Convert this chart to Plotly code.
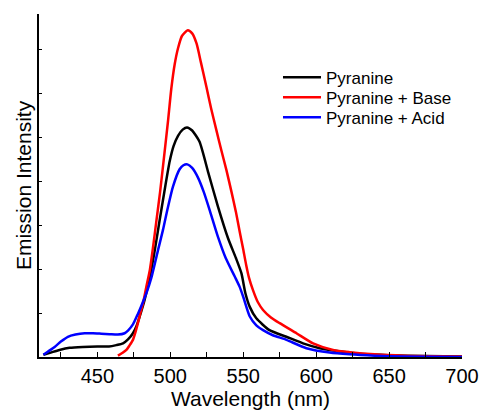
import plotly.graph_objects as go

# Wavelength (nm) and emission intensity (arb. units) for each series
wl_black = [413, 418, 424, 431, 440, 450, 458, 463, 467.6, 471, 474.4, 477, 479, 482.4,
            485.9, 489.4, 492.7, 496, 499.6, 502.3, 505.3, 508.5, 511.5, 515, 520, 526,
            532.7, 539.6, 545, 548.8, 551.5, 554.5, 559, 568, 579.6, 591, 602.5, 620.8,
            635, 650, 675, 700]
black = [0.05, 0.10, 0.16, 0.21, 0.23, 0.24, 0.24, 0.27, 0.31, 0.40, 0.54, 0.72, 0.92, 1.30,
         1.80, 2.43, 3.11, 3.77, 4.45, 4.80, 5.03, 5.17, 5.22, 5.15, 4.90, 4.20,
         3.42, 2.70, 2.25, 1.90, 1.45, 1.14, 0.88, 0.61, 0.46, 0.31, 0.20, 0.11,
         0.06, 0.04, 0.02, 0.01]

wl_red = [464.1, 467, 469.9, 472, 474.4, 476, 477.8, 479.5, 481.3, 483.6, 486, 488, 490.5,
          493, 496, 498.4, 500.7, 503, 505.3, 508, 512, 515, 518, 521, 524.8, 528, 531.6,
          535, 538.5, 542, 545, 547.6, 550, 552, 554, 556.7, 560, 563.6, 569, 575, 586.5,
          597.9, 611.6, 623, 640, 660, 700]
red = [0.03, 0.09, 0.16, 0.26, 0.39, 0.55, 0.77, 1.00, 1.22, 1.60, 1.98, 2.45, 3.10,
       3.75, 4.63, 5.35, 6.10, 6.65, 7.02, 7.30, 7.43, 7.36, 7.13, 6.70, 6.14, 5.65, 5.16,
       4.70, 4.25, 3.75, 3.30, 2.85, 2.45, 2.10, 1.80, 1.52, 1.25, 1.07, 0.90, 0.77, 0.54,
       0.31, 0.16, 0.11, 0.06, 0.03, 0.01]

wl_blue = [413, 416, 420.7, 425, 429.8, 435, 441.3, 447, 452.7, 458.4, 464, 468.7, 471,
           474.4, 477.8, 480, 483.6, 487, 491.6, 495, 498, 501.8, 506.4, 509, 511.7, 515,
           519, 523, 527, 532.7, 538, 544.2, 547.5, 550, 554.5, 559, 563.6, 570, 579.6,
           593.3, 609.3, 623, 640, 660, 700]
blue = [0.05, 0.12, 0.23, 0.35, 0.46, 0.51, 0.54, 0.54, 0.53, 0.52, 0.51, 0.54, 0.60,
        0.74, 0.98, 1.15, 1.45, 1.80, 2.43, 2.89, 3.35, 3.87, 4.27, 4.36, 4.38, 4.30,
        4.08, 3.75, 3.34, 2.73, 2.25, 1.83, 1.60, 1.37, 0.92, 0.72, 0.61, 0.50, 0.39,
        0.20, 0.10, 0.06, 0.03, 0.01, 0.00]

names = ["Pyranine", "Pyranine + Base", "Pyranine + Acid"]
x_ticks = [450, 500, 550, 600, 650, 700]

series = [(wl_black, black, names[0], "#000000", "legend"),
          (wl_red, red, names[1], "#ff0000", "legend2"),
          (wl_blue, blue, names[2], "#0000ff", "legend3")]

fig = go.Figure()
for xs, ys, name, col, lg in series:
    fig.add_trace(go.Scatter(x=xs, y=ys, name=name, mode="lines", legend=lg,
                             line=dict(color=col, width=2.5, shape="spline", smoothing=0.6)))

leg_common = dict(x=0.565, xanchor="left", yanchor="top", font=dict(size=17),
                  bgcolor="rgba(0,0,0,0)", itemwidth=38)

fig.update_layout(
    width=481, height=410,
    margin=dict(l=39, r=19, t=14, b=53),
    paper_bgcolor="white", plot_bgcolor="white",
    font=dict(family="Liberation Sans, Arial, sans-serif", color="black"),
    showlegend=True,
    legend=dict(y=0.8668, **leg_common),
    legend2=dict(y=0.8085, **leg_common),
    legend3=dict(y=0.750, **leg_common),
    xaxis=dict(range=[410, 700], tickvals=x_ticks, ticks="inside", ticklen=5,
               tickwidth=1.2, tickcolor="black", showline=True, linecolor="black",
               linewidth=1.5, showgrid=False, zeroline=False,
               tickfont=dict(size=20),
               minor=dict(dtick=25, tick0=425, ticks="inside", ticklen=5, tickwidth=1.2,
                          tickcolor="black", showgrid=False),
               title=dict(text="Wavelength (nm)", font=dict(size=21), standoff=4),
               automargin=False),
    yaxis=dict(range=[0, 7.8], dtick=1, tick0=0, ticks="inside", ticklen=3,
               tickwidth=1.2, tickcolor="black", showticklabels=False,
               showline=True, linecolor="black", linewidth=1.5, showgrid=False,
               zeroline=False,
               title=dict(text="Emission Intensity", font=dict(size=21), standoff=0),
               automargin=False),
)

fig.write_html("out.html")
